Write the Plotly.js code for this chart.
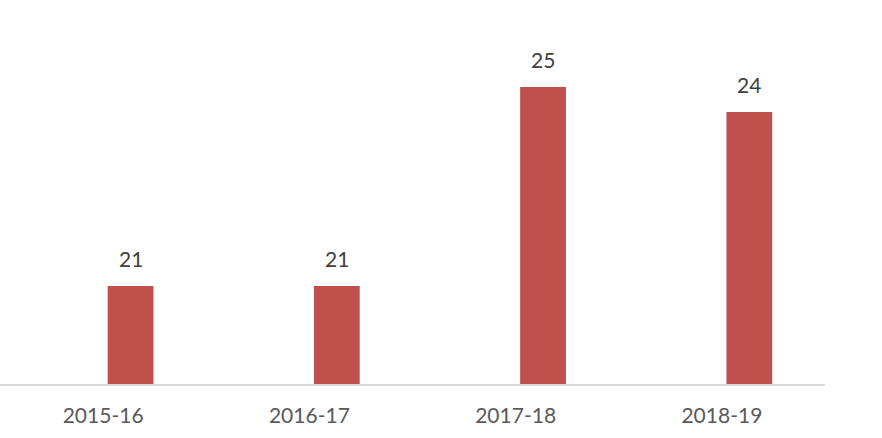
<!DOCTYPE html>
<html>
<head>
<meta charset="utf-8">
<script src="https://cdn.plot.ly/plotly-3.0.1.min.js"></script>
<style>html,body{margin:0;padding:0;background:#fff;}#chart{width:882px;height:438px;}</style>
</head>
<body>
<div id="chart"></div>
<script>
var categories = ["2015-16", "2016-17", "2017-18", "2018-19"];
var values = [21.0, 21.0, 24.98, 24.48];
var labels = ["21", "21", "25", "24"];

var barWidth = 0.222;
var barOffset = 0.022;

var trace = {
  type: "bar",
  x: categories,
  y: values,
  base: 0,
  width: barWidth,
  offset: barOffset,
  marker: {color: "#c0504d"},
  hoverinfo: "skip"
};

var annotations = categories.map(function (c, i) {
  return {
    x: i + barOffset + barWidth / 2, y: values[i], xref: "x", yref: "y",
    text: labels[i], showarrow: false,
    yanchor: "bottom", yshift: 13,
    font: {family: "Lato, 'Open Sans', sans-serif", size: 21, color: "#404040"}
  };
});

var layout = {
  width: 882, height: 438,
  margin: {l: 0, r: 57, t: 20, b: 54},
  paper_bgcolor: "#ffffff",
  plot_bgcolor: "#ffffff",
  showlegend: false,
  xaxis: {
    type: "category",
    range: [-0.5, 3.5],
    showline: true, linecolor: "#d9d9d9", linewidth: 2,
    showgrid: false, zeroline: false,
    ticks: "", ticklabelstandoff: 12,
    tickfont: {family: "Lato, 'Open Sans', sans-serif", size: 21, color: "#595959"}
  },
  yaxis: {
    range: [19.04, 26.32],
    visible: false, showgrid: false, zeroline: false
  },
  annotations: annotations
};

Plotly.newPlot("chart", [trace], layout, {displayModeBar: false, staticPlot: true});
</script>
</body>
</html>
